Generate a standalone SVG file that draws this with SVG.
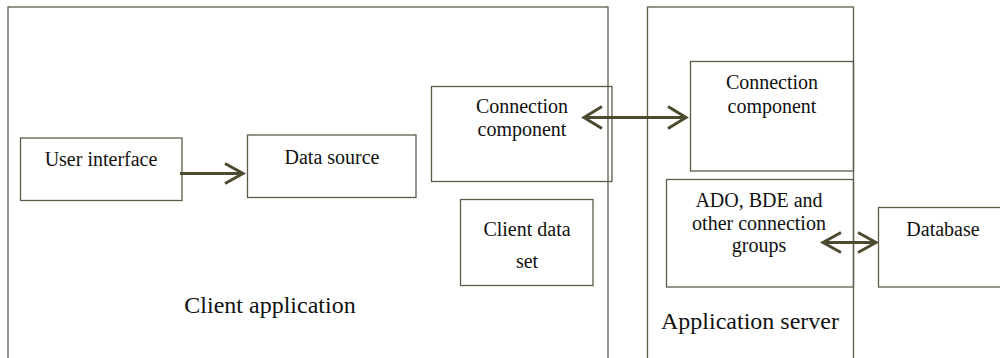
<svg xmlns="http://www.w3.org/2000/svg" width="1000" height="358" viewBox="0 0 1000 358">
  <style>
    .box { fill: none; stroke: #5f5a48; stroke-width: 1.3; }
    .lbl { font-family: 'Liberation Serif', 'DejaVu Serif', serif; font-size: 20px; fill: #111; text-anchor: middle; }
    .big { font-size: 24px; }
    .conn { fill: none; stroke: #4e4a30; stroke-width: 3; }
    .head { fill: none; stroke: #4e4a30; stroke-width: 3; stroke-linecap: butt; stroke-linejoin: miter; }
  </style>

  <rect width="1000" height="358" fill="#ffffff"/>

  <!-- Client side -->
  <g id="client-application">
    <rect class="box" x="8" y="7" width="600" height="360"/>
    <text class="lbl big" x="270" y="313">Client application</text>
  </g>
  <g id="user-interface">
    <rect class="box" x="20.5" y="138" width="161.5" height="62.5"/>
    <text class="lbl" x="101" y="166">User interface</text>
  </g>
  <g id="data-source">
    <rect class="box" x="247.5" y="135" width="168.5" height="62.5"/>
    <text class="lbl" x="332" y="164">Data source</text>
  </g>
  <g id="client-connection-component">
    <rect class="box" x="431.5" y="86.5" width="180.5" height="95"/>
    <text class="lbl" x="522" y="113">Connection</text>
    <text class="lbl" x="522" y="136">component</text>
  </g>
  <g id="client-data-set">
    <rect class="box" x="460.5" y="199.5" width="132.5" height="86"/>
    <text class="lbl" x="527" y="236">Client data</text>
    <text class="lbl" x="527" y="268">set</text>
  </g>

  <!-- Server side -->
  <g id="application-server">
    <rect class="box" x="647.5" y="7" width="206" height="360"/>
    <text class="lbl big" x="750" y="329">Application server</text>
  </g>
  <g id="server-connection-component">
    <rect class="box" x="690.5" y="61.5" width="163" height="109.5"/>
    <text class="lbl" x="772" y="89">Connection</text>
    <text class="lbl" x="772" y="113">component</text>
  </g>
  <g id="connection-groups">
    <rect class="box" x="666.5" y="179.5" width="187" height="107.5"/>
    <text class="lbl" x="759" y="207">ADO, BDE and</text>
    <text class="lbl" x="759" y="230">other connection</text>
    <text class="lbl" x="759" y="252">groups</text>
  </g>
  <g id="database">
    <rect class="box" x="878.5" y="207.5" width="130" height="79.5"/>
    <text class="lbl" x="943" y="236">Database</text>
  </g>

  <!-- Connectors -->
  <g id="connectors">
    <!-- User interface -> Data source -->
    <line class="conn" x1="180" y1="173.5" x2="243" y2="173.5"/>
    <polyline class="head" points="225,163.5 243,173.5 225,183.5"/>

    <!-- Client connection <-> server connection -->
    <line class="conn" x1="584" y1="117.5" x2="686" y2="117.5"/>
    <polyline class="head" points="602,106.5 584,117.5 602,128.5"/>
    <polyline class="head" points="668,106.5 686,117.5 668,128.5"/>

    <!-- Connection groups <-> Database -->
    <line class="conn" x1="823" y1="242.5" x2="876" y2="242.5"/>
    <polyline class="head" points="841,232.5 823,242.5 841,252.5"/>
    <polyline class="head" points="858,232.5 876,242.5 858,252.5"/>
  </g>
</svg>
